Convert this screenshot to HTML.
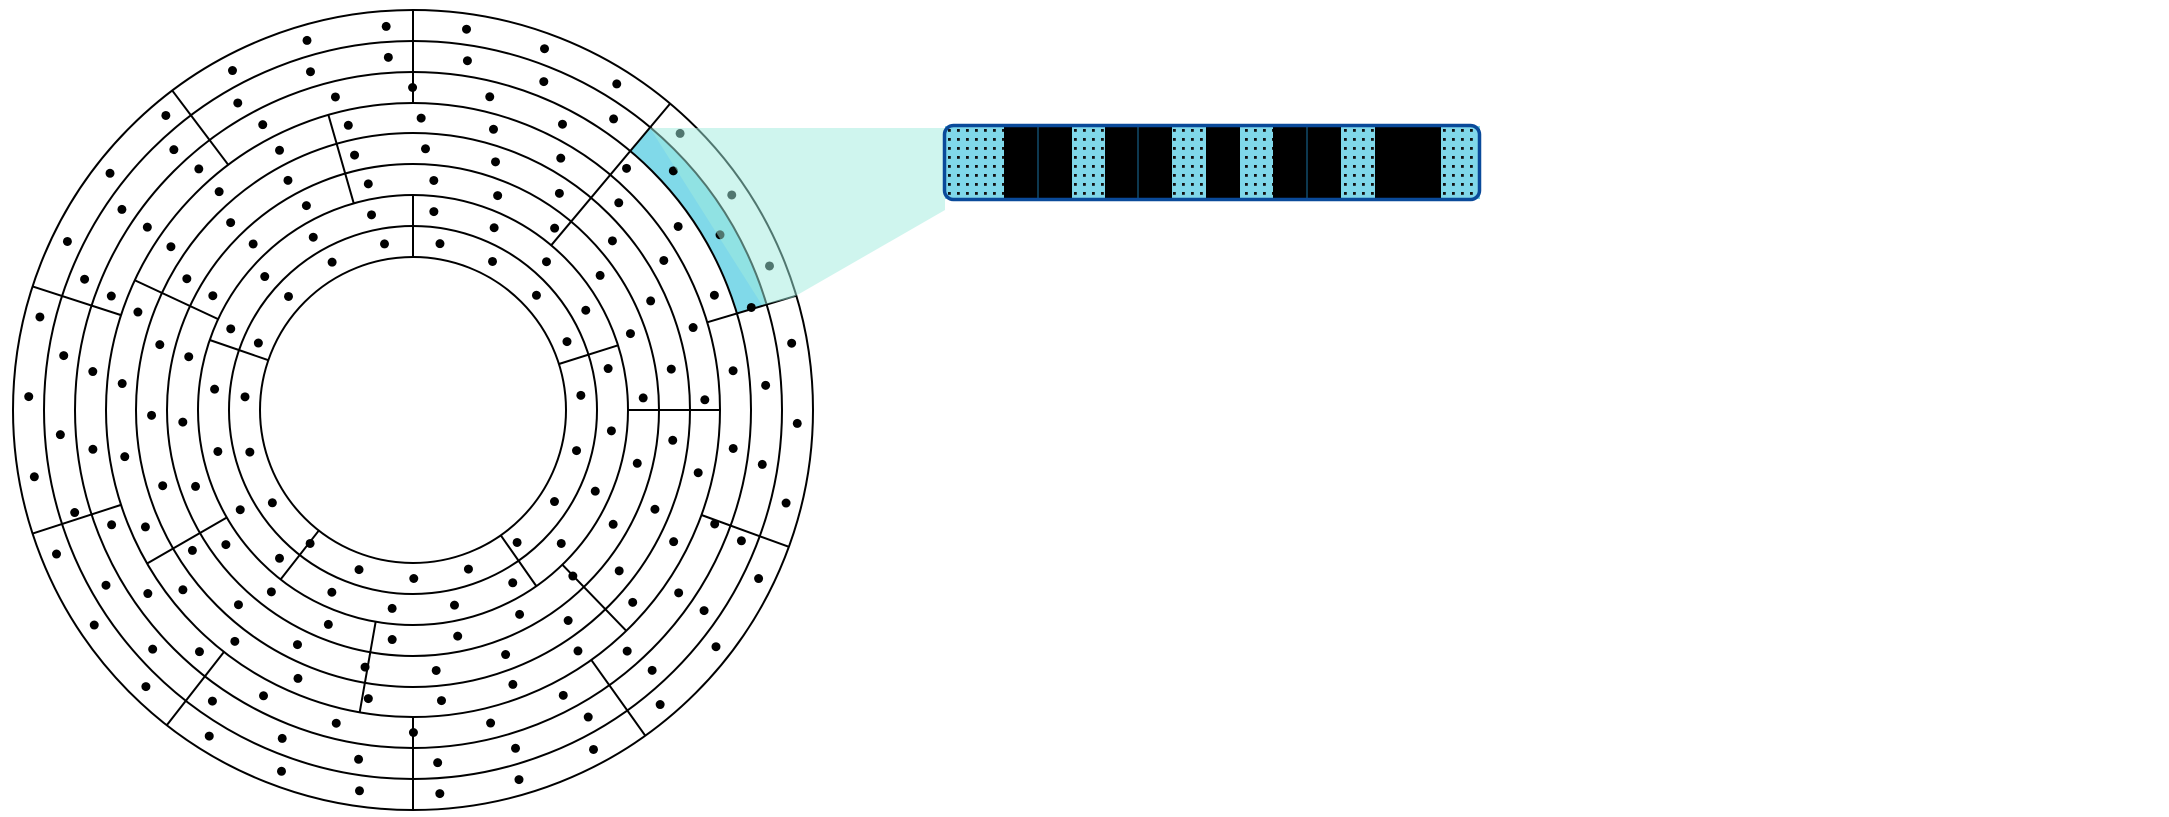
<!DOCTYPE html>
<html><head><meta charset="utf-8"><style>
html,body{margin:0;padding:0;background:#fff;width:2169px;height:817px;overflow:hidden}
svg{display:block}
</style></head><body>
<svg id="fig" width="2169" height="817" viewBox="0 0 2169 817" xmlns="http://www.w3.org/2000/svg">
<defs>
<pattern id="dotpat" width="9" height="9" patternUnits="userSpaceOnUse">
<rect width="9" height="9" fill="#80d8ea"/><rect x="3" y="3" width="2.8" height="2.8" fill="#111"/>
</pattern>
</defs>
<g id="rings"></g>
<g id="bar"></g>
</svg>
<script>
const NS='http://www.w3.org/2000/svg';
const cx=413, cy=410;
const radii=[153,184,215,246,277,307,338,369,400];
const dotCounts=[19,20,22,23,25,26,28,30];
const dotOffsets=[5,12,3,9,2,7,4,10];
// dividers: [innerRingIdx, outerRingIdx, angleDeg]
const dividers=[
 [0,2,90],[0,2,17.5],[0,2,161],[0,2,232],[0,2,305],
 [2,5,0],[2,8,50],[2,5,106],[2,5,155],[2,5,210],[2,5,260],[2,5,314],
 [5,8,16.6],[5,8,90],[5,8,127],[5,8,162],[5,8,198],[5,8,232],[5,8,270],[5,8,305.5],[5,8,340]
];
// strip segments: [x0,x1,type] type 0 = dotted, 1 = black
const stripBits=[[945,1004,0],[1004,1072,1],[1072,1105,0],[1105,1172,1],[1172,1206,0],[1206,1240,1],[1240,1273,0],[1273,1341,1],[1341,1375,0],[1375,1441,1],[1441,1480,0]];
const stripLines=[1038,1138,1307];

function mk(tag,attrs,parent){const e=document.createElementNS(NS,tag);for(const k in attrs)e.setAttribute(k,attrs[k]);parent.appendChild(e);return e;}
const g=document.getElementById('rings');
function pt(r,a){const t=a*Math.PI/180;return [cx+r*Math.cos(t),cy-r*Math.sin(t)];}
(function(){
 const r0=radii[6],r1=radii[7],a0=16.6,a1=50;
 const p1=pt(r1,a0),p2=pt(r1,a1),p3=pt(r0,a1),p4=pt(r0,a0);
 const p=mk('path',{d:`M${p1} A${r1},${r1} 0 0 0 ${p2} L${p3} A${r0},${r0} 0 0 1 ${p4} Z`,fill:'#80d9e9'},g);
 
 
})();
radii.forEach((r,i)=>{
 const c=mk('circle',{cx:cx,cy:cy,r:r,fill:'none',stroke:'#000','stroke-width':2},g);
 
 
});
dividers.forEach((d,i)=>{
 const a=pt(radii[d[0]],d[2]),b=pt(radii[d[1]],d[2]);
 const l=mk('line',{x1:a[0],y1:a[1],x2:b[0],y2:b[1],stroke:'#000','stroke-width':2},g);
 
 
});
dotCounts.forEach((n,i)=>{
 const r=(radii[i]+radii[i+1])/2;
 for(let k=0;k<n;k++){
  const p=pt(r,dotOffsets[i]+k*360/n);
  const c=mk('circle',{cx:p[0],cy:p[1],r:4.5,fill:'#000'},g);
  
  
 }
});
(function(){
 const p=mk('polygon',{points:'650,128 945,128 945,210 792,298 762,305',fill:'rgba(160,236,222,0.5)'},g);
 
 
})();
const bar=document.getElementById('bar');
stripBits.forEach(s=>{
 const r=mk('rect',{x:s[0],y:126,width:s[1]-s[0],height:73,fill:s[2]?'#000':'url(#dotpat)'},bar);
 
 
});
stripLines.forEach(x=>{
 const l=mk('line',{x1:x,y1:126,x2:x,y2:199,stroke:'#1a6fa0','stroke-width':1},bar);
 
 
});
(function(){
 const r=mk('rect',{x:944.5,y:125.5,width:535,height:74,rx:9,fill:'none',stroke:'#0a4a9a','stroke-width':3.5},bar);
 
 
})();
</script>
</body></html>
